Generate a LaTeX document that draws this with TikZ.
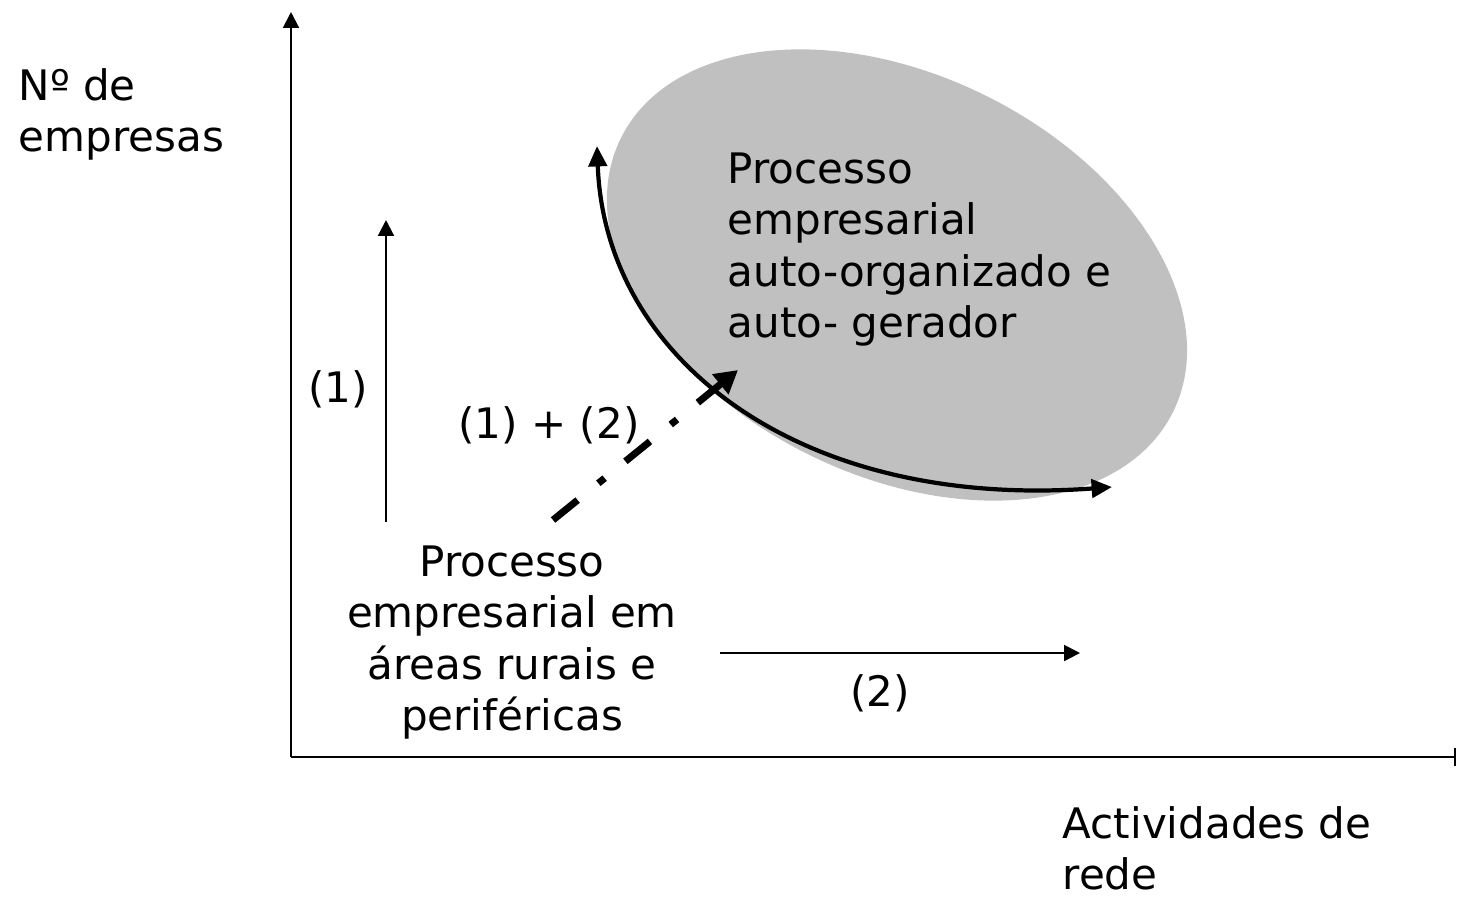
\documentclass[tikz,border=0pt]{standalone}
\usepackage{fontspec}
\setmainfont{DejaVu Sans}
\usetikzlibrary{arrows.meta}
\definecolor{ellgray}{RGB}{192,192,192}
\tikzset{
	txt/.style={inner sep=0pt, font=\fontsize{11.95}{14.6}\selectfont},
	axis/.style={line width=0.6pt},
	thinarr/.style={line width=0.6pt, -{Triangle[length=4.5pt,width=4.5pt]}},
	cyclearr/.style={line width=1.2pt, {Triangle[length=5.8pt,width=5.2pt]}-{Triangle[length=5.8pt,width=5.2pt]}},
	jumparr/.style={line width=2pt, dash pattern=on 9pt off 7.6pt on 2.3pt off 7.6pt, -{Triangle[length=6.5pt,width=7pt]}}
}

\begin{document}
\begin{tikzpicture}[x=0.01cm, y=-0.01cm]% coordinates in pixels, y downwards
	\useasboundingbox (0,0) rectangle (1458,896);

	% axes
	\coordinate (O) at (291,757);
	\coordinate (ytop) at (291,12);
	\coordinate (xend) at (1456,757);
	\draw[axis, -{Triangle[length=4.5pt,width=4.5pt]}] (O) -- (ytop);
	\draw[axis, -{Bar[width=5.2pt]}] (O) -- (xend);
	\node[txt, anchor=north west, align=left] (nemp) at (18,68) {Nº de\\empresas};
	\node[txt, anchor=north west, align=left] (ativ) at (1062,806) {Actividades de\\rede};

	% self-organised region
	\coordinate (ellc) at (897,275);
	\fill[ellgray, rotate around={-26.4:(ellc)}] (ellc) ellipse [x radius=3.08cm, y radius=2cm];
	\node[txt, anchor=north west, align=left] (auto) at (727,152) {Processo\\empresarial\\auto-organizado e\\auto- gerador};
	\coordinate (arca) at (597,146);
	\coordinate (arcb) at (1112,487);
	\draw[cyclearr] (arca) .. controls (605,360) and (800,510) .. (arcb);

	% starting point
	\node[txt, anchor=north, align=center] (rural) at (512,545) {Processo\\empresarial em\\áreas rurais e\\periféricas};
	\coordinate (dda) at (553,520);
	\coordinate (ddb) at (738,370);
	\draw[jumparr] (dda) -- (ddb);
	\node[txt] (lab12) at (549,425) {(1) + (2)};

	% (1) more firms
	\coordinate (u1a) at (386,522);
	\coordinate (u1b) at (386,220);
	\draw[thinarr] (u1a) -- (u1b);
	\node[txt] (lab1) at (338,389) {(1)};

	% (2) more networking
	\coordinate (r2a) at (720,653);
	\coordinate (r2b) at (1080,653);
	\draw[thinarr] (r2a) -- (r2b);
	\node[txt] (lab2) at (880,693) {(2)};
\end{tikzpicture}
\end{document}
